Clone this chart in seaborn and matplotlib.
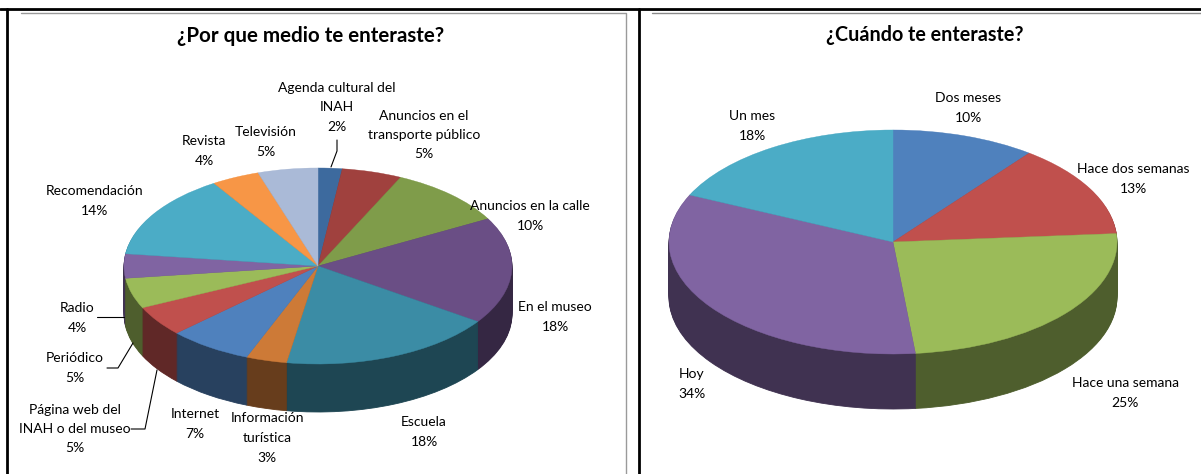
import numpy as np
import matplotlib
matplotlib.use("Agg")
import matplotlib.pyplot as plt
from matplotlib.colors import to_rgb
import seaborn as sns

W, H = 1201, 474

# left chart
medio_values = [2, 5, 10, 17.6, 18, 3.4, 7, 5, 5, 4, 14, 4, 5]
medio_colors = ["#3D6A9E", "#A0413E", "#7F9C4A", "#6A4E85", "#3B8CA5", "#CD7A37", "#4F81BD",
                "#C0504D", "#9BBB59", "#8064A2", "#4BACC6", "#F79646", "#AABAD7"]
medio_labels = ["Agenda cultural del\nINAH\n2%", "Anuncios en el\ntransporte público\n5%",
                "Anuncios en la calle\n10%", "En el museo\n18%", "Escuela\n18%",
                "Información\nturística\n3%", "Internet\n7%", "Página web del\nINAH o del museo\n5%",
                "Periódico\n5%", "Radio\n4%", "Recomendación\n14%", "Revista\n4%", "Televisión\n5%"]
medio_pos = [(337, 107), (424, 135), (530, 216), (555, 317), (424, 432), (267, 438), (195, 424),
             (75, 429), (75, 368), (77, 318), (95, 201), (204, 151), (266, 142)]

# right chart
cuando_values = [10.4, 13.4, 24.6, 33.5, 18.1]
cuando_colors = ["#4F81BD", "#C0504D", "#9BBB59", "#8064A2", "#4BACC6"]
cuando_labels = ["Dos meses\n10%", "Hace dos semanas\n13%", "Hace una semana\n25%", "Hoy\n34%", "Un mes\n18%"]
cuando_pos = [(968, 108), (1133, 179), (1125, 393), (692, 384), (752, 126)]

sns.set_theme(style="white")
plt.rcParams['font.family'] = ['Lato', 'DejaVu Sans']
plt.rcParams['font.size'] = 10


def pie3d(fig, values, colors, cx, cy, rx, ry, depth):
    # box in pixels, y counted from the top of the picture
    ax = fig.add_axes([(cx - rx) / W, 1 - (cy + ry + depth) / H, 2 * rx / W, (2 * ry + depth) / H])
    palette = sns.color_palette(colors)
    dark = [tuple(np.array(to_rgb(c)) * 0.5) for c in palette]
    # side wall: same pie repeated downwards, bottom layer first
    for k in np.arange(depth, 0, -1):
        wedges, _ = ax.pie(values, colors=dark, startangle=90, counterclock=False, center=(0, -k / ry),
                           wedgeprops=dict(linewidth=0.6))
        for w, c in zip(wedges, dark):
            w.set_edgecolor(c)
    wedges, _ = ax.pie(values, colors=palette, startangle=90, counterclock=False,
                       wedgeprops=dict(linewidth=0.3))
    for w, c in zip(wedges, palette):
        w.set_edgecolor(c)
    ax.set_aspect("auto")
    ax.set_xlim(-1, 1)
    ax.set_ylim(-1 - depth / ry, 1)
    ax.axis("off")


fig = plt.figure(figsize=(W / 100, H / 100), dpi=100, facecolor="white")

pie3d(fig, medio_values, medio_colors, 318, 266, 194, 98, 48)
pie3d(fig, cuando_values, cuando_colors, 893, 242, 224, 112, 55)

# overlay in pixel units for frame, text and leader lines
over = fig.add_axes([0, 0, 1, 1], facecolor="none")
over.set_xlim(0, W)
over.set_ylim(H, 0)
over.axis("off")

over.plot([0, W], [9, 9], color="black", lw=2)
over.plot([7, 7], [9, H], color="black", lw=2)
over.plot([639, 639], [9, H], color="black", lw=2)
over.plot([21, 626, 626], [13, 13, H], color="#9a9a9a", lw=1)
over.plot([652, W], [13, 13], color="#8a8a8a", lw=1)

over.text(311, 36, "¿Por que medio te enteraste?", ha="center", va="center", fontsize=14.8, fontweight="bold", color="black")
over.text(925, 35, "¿Cuándo te enteraste?", ha="center", va="center", fontsize=14.2, fontweight="bold", color="black")

for (x, y), lab in zip(medio_pos + cuando_pos, medio_labels + cuando_labels):
    over.text(x, y, lab, ha="center", va="center", linespacing=1.75, color="black")

# leader lines
over.plot([337, 337, 331], [140, 151, 167], color="black", lw=0.8)
over.plot([97, 124], [317, 317], color="black", lw=0.8)
over.plot([107, 118, 133], [368, 368, 343], color="black", lw=0.8)
over.plot([131, 145, 157], [429, 429, 370], color="black", lw=0.8)

plt.savefig("out.png", dpi=100)
